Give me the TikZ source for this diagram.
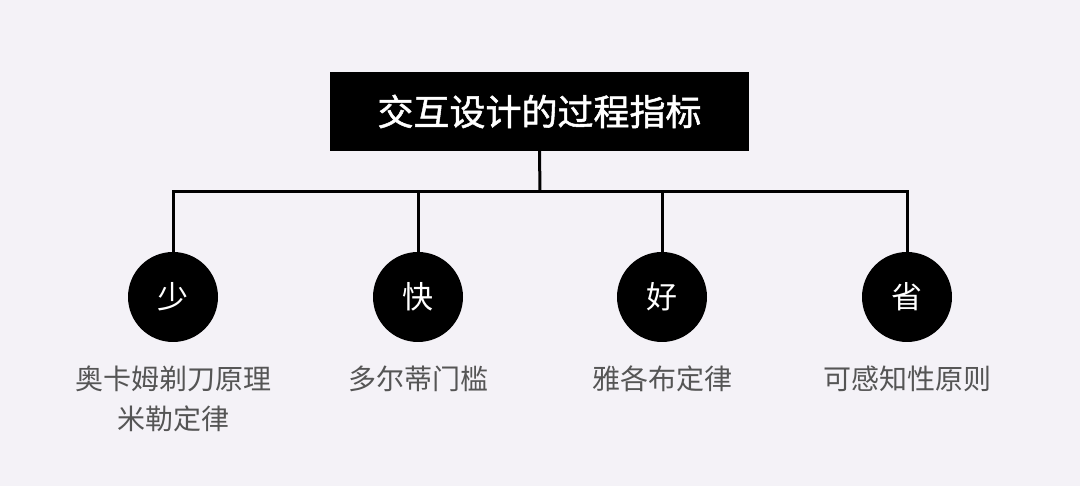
\documentclass[tikz,border=0pt]{standalone}
\usepackage{fontspec}
\setmainfont{Noto Sans CJK SC}
\newfontfamily\titlefont{Noto Sans CJK SC}[FakeBold=1.4]
\usetikzlibrary{positioning}
\definecolor{bgpaper}{HTML}{F4F2F7}
\definecolor{labelgray}{HTML}{555555}
\tikzset{
  topbox/.style={draw=none,fill=black,text=white,minimum width=419pt,minimum height=79pt,inner sep=0pt,font=\titlefont\fontsize{36}{40}\selectfont},
  dotnode/.style={circle,fill=black,text=white,minimum size=90pt,inner sep=0pt,font=\fontsize{31}{34}\selectfont},
  linkline/.style={line width=3pt,black},
  caption/.style={text=labelgray,align=center,anchor=north,inner sep=0pt,font=\fontsize{28}{40}\selectfont}
}
\begin{document}
\begin{tikzpicture}[x=1pt,y=1pt]
  % background
  \fill[bgpaper] (0,0) rectangle (1080,486);
  \useasboundingbox (0,0) rectangle (1080,486);

  % title box
  \node[topbox] (title) at (539.5,374.5) {交互设计的过程指标};
  \coordinate (bus) at (540,294);
  \draw[linkline] (title.south) -- (bus);

  % four indicators
  \foreach \n/\x/\ch in {1/173/少,2/418/快,3/662/好,4/907/省}{
    \node[dotnode] (c\n) at (\x,189) {\ch};
    \coordinate (j\n) at (c\n.north |- bus);
    \draw[linkline] (j\n) -- (c\n.north);
  }
  \draw[linkline,line cap=rect] (j1) -- (j4);

  % captions
  \node[caption] (t1) at (173,120) {奥卡姆剃刀原理\\米勒定律};
  \node[caption] (t2) at (418,120) {多尔蒂门槛};
  \node[caption] (t3) at (662,120) {雅各布定律};
  \node[caption] (t4) at (907,120) {可感知性原则};
\end{tikzpicture}
\end{document}
